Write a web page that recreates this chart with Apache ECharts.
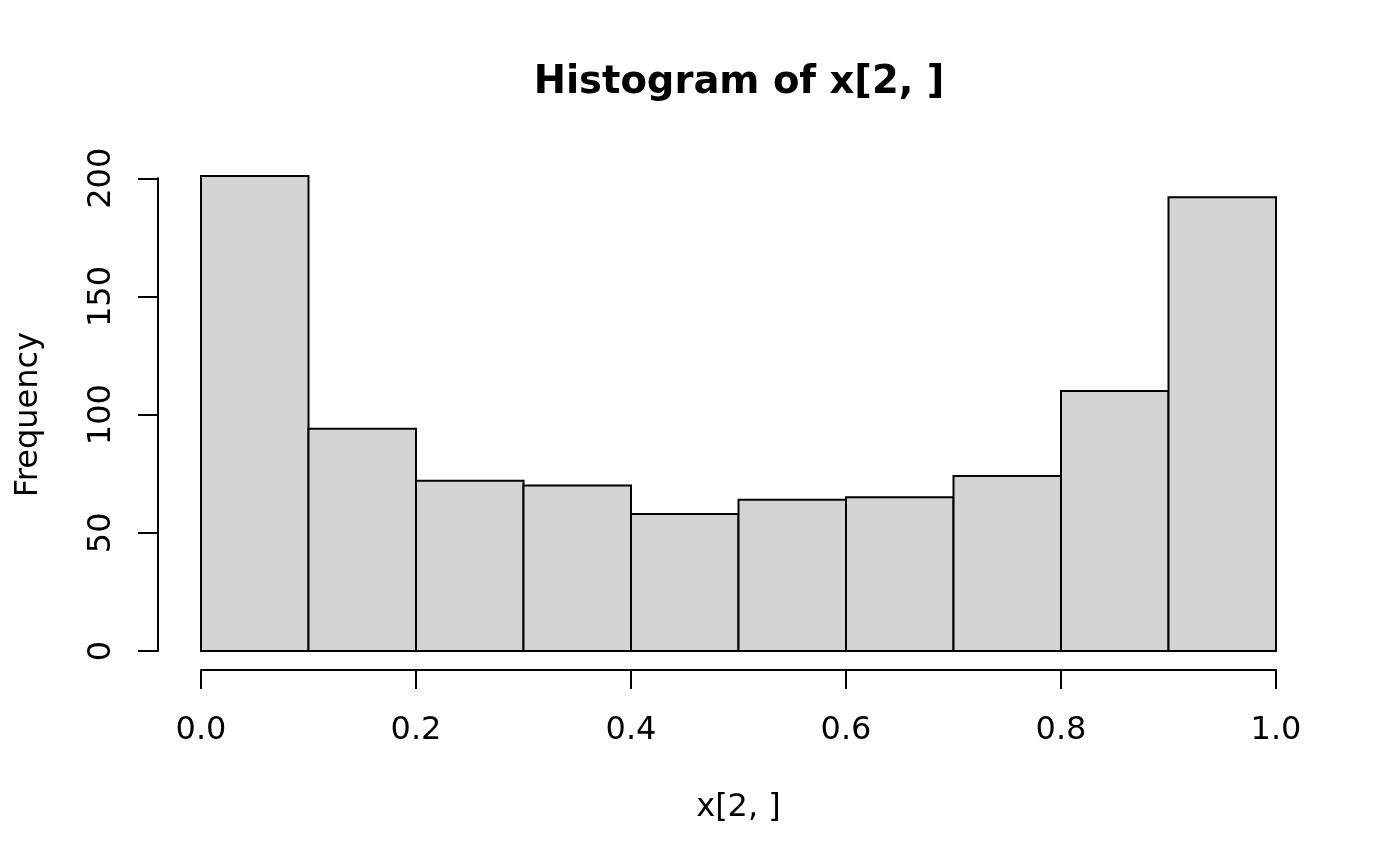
<!DOCTYPE html>
<html>
<head>
<meta charset="utf-8">
<script src="https://cdn.jsdelivr.net/npm/echarts@6/dist/echarts.min.js"></script>
<style>
html,body{margin:0;padding:0;background:#fff;}
#chart{width:1400px;height:866px;}
</style>
</head>
<body>
<div id="chart"></div>
<script>
var binStarts = [0.0, 0.1, 0.2, 0.3, 0.4, 0.5, 0.6, 0.7, 0.8, 0.9];
var binEnds   = [0.1, 0.2, 0.3, 0.4, 0.5, 0.6, 0.7, 0.8, 0.9, 1.0];
var counts    = [201, 94, 72, 70, 58, 64, 65, 74, 110, 192];
var xTicks    = ['0.0', '0.2', '0.4', '0.6', '0.8', '1.0'];
var yTicks    = ['0', '50', '100', '150', '200'];

var data = binStarts.map(function (s, i) { return [s, binEnds[i], counts[i]]; });

var FONT = 'DejaVu Sans';
var chart = echarts.init(document.getElementById('chart'), null, {renderer: 'canvas'});
chart.setOption({
  animation: false,
  backgroundColor: '#ffffff',
  title: {
    text: 'Histogram of x[2, ]',
    left: 734,
    textAlign: 'center',
    top: 58,
    textStyle: {fontFamily: FONT, fontWeight: 'bold', fontSize: 38.5, color: '#000'}
  },
  grid: {left: 201, right: 124, top: 178.3, bottom: 215},
  xAxis: {
    type: 'value',
    min: 0, max: 1, interval: 0.2,
    offset: 19,
    name: 'x[2, ]',
    nameLocation: 'middle',
    nameGap: 122,
    nameTextStyle: {fontFamily: FONT, fontSize: 32, color: '#000'},
    axisLine: {show: true, onZero: false, lineStyle: {color: '#000', width: 2}},
    axisTick: {show: true, length: 19, lineStyle: {color: '#000', width: 2}},
    axisLabel: {
      fontFamily: FONT, fontSize: 32, color: '#000', margin: 45,
      formatter: function (v) { var i = Math.round(v / 0.2); return xTicks[i] !== undefined ? xTicks[i] : ''; }
    },
    splitLine: {show: false}
  },
  yAxis: {
    type: 'value',
    min: 0, max: 200, interval: 50,
    offset: 43,
    name: 'Frequency',
    nameLocation: 'middle',
    nameRotate: 90,
    nameGap: 113,
    nameTextStyle: {fontFamily: FONT, fontSize: 32, color: '#000'},
    axisLine: {show: true, onZero: false, lineStyle: {color: '#000', width: 2}},
    axisTick: {show: true, length: 20, lineStyle: {color: '#000', width: 2}},
    axisLabel: {
      fontFamily: FONT, fontSize: 32, color: '#000', margin: 40, rotate: 90,
      formatter: function (v) { var i = Math.round(v / 50); return yTicks[i] !== undefined ? yTicks[i] : ''; }
    },
    splitLine: {show: false}
  },
  series: [{
    type: 'custom',
    clip: false,
    data: data,
    encode: {x: [0, 1], y: 2},
    renderItem: function (params, api) {
      var p0 = api.coord([api.value(0), api.value(2)]);
      var p1 = api.coord([api.value(1), 0]);
      return {
        type: 'rect',
        shape: {x: p0[0], y: p0[1], width: p1[0] - p0[0], height: p1[1] - p0[1]},
        style: {fill: '#d3d3d3', stroke: '#000', lineWidth: 2}
      };
    }
  }]
});
</script>
</body>
</html>
